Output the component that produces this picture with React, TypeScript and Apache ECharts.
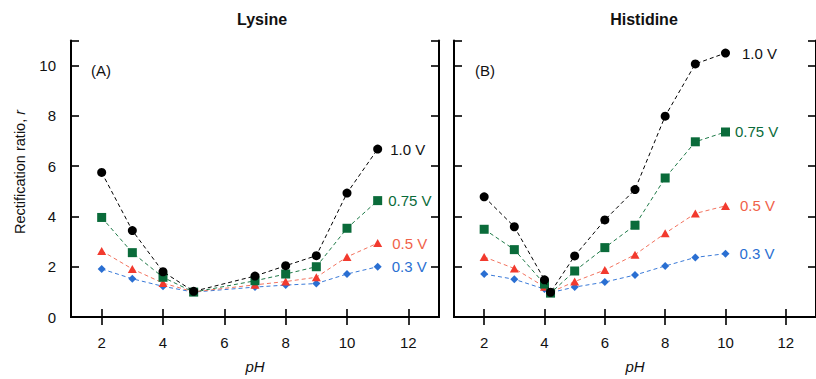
import React, { useEffect, useRef } from "react";
import * as echarts from "echarts";

const lysinePH = [2, 3, 4, 5, 7, 8, 9, 10, 11];
const lysine10 = [5.75, 3.44, 1.8, 1.02, 1.63, 2.04, 2.44, 4.93, 6.68];
const lysine075 = [3.96, 2.56, 1.58, 0.99, 1.44, 1.71, 2.0, 3.53, 4.63];
const lysine05 = [2.63, 1.91, 1.35, 1.0, 1.28, 1.41, 1.58, 2.39, 2.94];
const lysine03 = [1.91, 1.52, 1.22, 0.99, 1.19, 1.27, 1.33, 1.71, 2.0];

const histidinePH = [2, 3, 4, 4.2, 5, 6, 7, 8, 9, 10];
const histidine10 = [4.78, 3.59, 1.48, 0.98, 2.43, 3.86, 5.07, 7.99, 10.07, 10.5];
const histidine075 = [3.49, 2.68, 1.31, 0.95, 1.83, 2.76, 3.65, 5.53, 6.97, 7.36];
const histidine05 = [2.39, 1.93, 1.2, 0.98, 1.41, 1.87, 2.48, 3.33, 4.12, 4.42];
const histidine03 = [1.71, 1.5, 1.11, 0.97, 1.19, 1.39, 1.67, 2.03, 2.37, 2.52];

const xTicks = [2, 4, 6, 8, 10, 12];
const voltageLabels = ["1.0 V", "0.75 V", "0.5 V", "0.3 V"];
const panelTitles = ["Lysine", "Histidine"];
const panelTags = ["(A)", "(B)"];

const FONT = "'Liberation Sans', Arial, sans-serif";

const styles = [
  { color: "#000000", line: "#000000", text: "#111111", symbol: "circle", size: 9 },
  { color: "#0a6b3a", line: "#1f7a48", text: "#0a6b3a", symbol: "rect", size: 9 },
  { color: "#f23a2e", line: "#f2735f", text: "#f0624a", symbol: "triangle", size: 9 },
  { color: "#2a6fd2", line: "#3a7ad8", text: "#2a6fd2", symbol: "diamond", size: 8 },
];

function buildSeries(xs: number[], ys: number[][], idx: number, labelDist: number[]) {
  return ys.map((vals, s) => {
    const st = styles[s];
    const data = vals.map((v, i) => {
      const item: any = { value: [xs[i], v] };
      if (i === vals.length - 1) {
        item.label = {
          show: true,
          position: "right",
          distance: labelDist[s],
          formatter: voltageLabels[s],
          color: st.text,
          fontSize: 15,
          fontFamily: FONT,
        };
      }
      return item;
    });
    return {
      type: "line",
      xAxisIndex: idx * 2,
      yAxisIndex: idx * 2,
      data,
      symbol: st.symbol,
      symbolSize: st.symbol === "triangle" ? [9, 8] : st.size,
      itemStyle: { color: st.color },
      lineStyle: { color: st.line, width: 1, type: [4, 3] },
      z: 10 - s,
    };
  });
}

export default function App() {
  const ref = useRef<HTMLDivElement>(null);
  useEffect(() => {
    if (!ref.current) return;
    const chart = echarts.init(ref.current, undefined, { renderer: "svg" });
    const grids = [
      { left: 71, top: 40.5, width: 368, height: 280.5 },
      { left: 454, top: 40.5, width: 366, height: 280.5 },
    ];
    const xAxes: any[] = [];
    const yAxes: any[] = [];
    const axisLine = { show: true, lineStyle: { color: "#000", width: 2 } };
    const axisTick = { show: true, inside: true, length: 8, lineStyle: { color: "#000", width: 1.6 } };
    const xTick = { ...axisTick, customValues: xTicks };
    [0, 1].forEach((g) => {
      xAxes.push({
        type: "value",
        gridIndex: g,
        min: 1,
        max: 13,
        axisLine,
        axisTick: xTick,
        splitLine: { show: false },
        axisLabel: {
          color: "#111",
          fontSize: 15,
          fontFamily: FONT,
          margin: 18,
          customValues: xTicks,
        },
        name: "pH",
        nameLocation: "middle",
        nameGap: 42,
        nameTextStyle: { color: "#111", fontSize: 15, fontStyle: "italic", fontFamily: FONT },
      });
      xAxes.push({
        type: "value",
        gridIndex: g,
        position: "top",
        min: 1,
        max: 13,
        axisLine,
        axisTick: xTick,
        splitLine: { show: false },
        axisLabel: { show: false },
      });
      yAxes.push({
        type: "value",
        gridIndex: g,
        min: 0,
        max: 11,
        interval: 2,
        axisLine,
        axisTick,
        splitLine: { show: false },
        axisLabel: {
          show: g === 0,
          color: "#111",
          fontSize: 15,
          fontFamily: FONT,
          margin: 15,
          formatter: (v: number) => (v <= 10 ? String(v) : ""),
        },
      });
      yAxes.push({
        type: "value",
        gridIndex: g,
        position: "right",
        min: 0,
        max: 11,
        interval: 2,
        axisLine,
        axisTick,
        splitLine: { show: false },
        axisLabel: { show: false },
      });
    });

    const series = [
      ...buildSeries(lysinePH, [lysine10, lysine075, lysine05, lysine03], 0, [8, 6, 10, 10]),
      ...buildSeries(histidinePH, [histidine10, histidine075, histidine05, histidine03], 1, [12, 5, 10, 10]),
    ];

    chart.setOption({
      animation: false,
      backgroundColor: "#ffffff",
      title: [
        {
          text: panelTitles[0],
          left: 257,
          top: 6,
          textAlign: "center",
          textStyle: { fontSize: 16, fontWeight: "bold", color: "#111", fontFamily: FONT },
        },
        {
          text: panelTitles[1],
          left: 639,
          top: 6,
          textAlign: "center",
          textStyle: { fontSize: 16, fontWeight: "bold", color: "#111", fontFamily: FONT },
        },
      ],
      graphic: [
        { type: "text", left: 91, top: 63, style: { text: panelTags[0], fontSize: 15, fill: "#111", fontFamily: FONT } },
        { type: "text", left: 475, top: 63, style: { text: panelTags[1], fontSize: 15, fill: "#111", fontFamily: FONT } },
        {
          type: "text",
          x: 20,
          y: 172,
          rotation: Math.PI / 2,
          style: {
            text: "{n|Rectification ratio, }{r|r}",
            align: "center",
            verticalAlign: "middle",
            rich: {
              n: { fontSize: 14.5, fill: "#111", fontFamily: FONT },
              r: { fontSize: 14.5, fill: "#111", fontStyle: "italic", fontFamily: FONT },
            },
          },
        },
      ],
      grid: grids,
      xAxis: xAxes,
      yAxis: yAxes,
      series,
    });
    return () => chart.dispose();
  }, []);
  return (
    <div
      ref={ref}
      style={{ position: "absolute", left: 0, top: 0, width: 816, height: 379, overflow: "hidden" }}
    />
  );
}
